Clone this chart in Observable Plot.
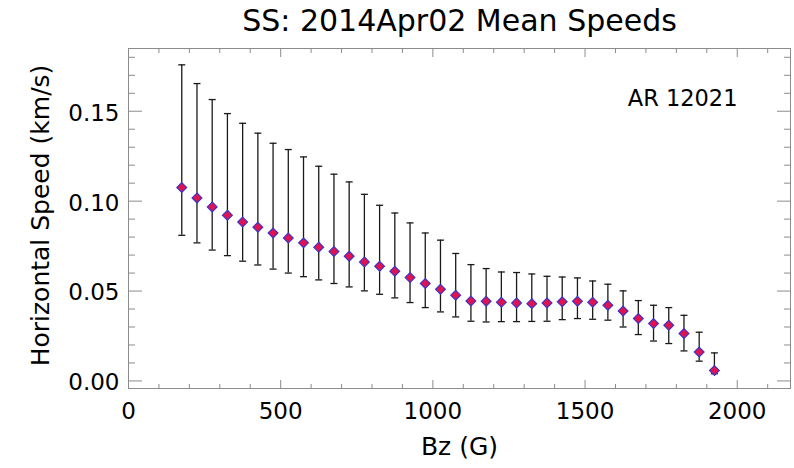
<!DOCTYPE html>
<html>
<head>
<meta charset="utf-8">
<script src="https://cdn.jsdelivr.net/npm/d3@7"></script>
<script src="https://cdn.jsdelivr.net/npm/@observablehq/plot@0.6"></script>
<style>
  body { margin: 0; background: #fff; }
  #chart svg { display: block; }
</style>
</head>
<body>
<div id="chart"></div>
<script>
// Field strength bins (G)
const bz = [175, 225, 275, 325, 375, 425, 475, 525, 575, 625, 675, 725,
            775, 825, 875, 925, 975, 1025, 1075, 1125, 1175, 1225, 1275, 1325,
            1375, 1425, 1475, 1525, 1575, 1625, 1675, 1725, 1775, 1825, 1875, 1925];
// Mean horizontal speed per bin (km/s)
const meanSpeed = [0.1076, 0.1018, 0.0968, 0.0922, 0.0884, 0.0855, 0.0823, 0.0795, 0.0768, 0.0744, 0.0720, 0.0694,
                   0.0662, 0.0638, 0.0610, 0.0575, 0.0542, 0.0510, 0.0477, 0.0445, 0.0443, 0.0438, 0.0434, 0.0430,
                   0.0434, 0.0440, 0.0443, 0.0438, 0.0421, 0.0389, 0.0347, 0.0319, 0.0310, 0.0264, 0.0161, 0.0058];
// Error bar upper ends
const upper = [0.1758, 0.1654, 0.1565, 0.1487, 0.1433, 0.1378, 0.1322, 0.1287, 0.1246, 0.1194, 0.1150, 0.1107,
               0.1038, 0.0977, 0.0934, 0.0879, 0.0823, 0.0783, 0.0709, 0.0647, 0.0625, 0.0606, 0.0603, 0.0595,
               0.0582, 0.0578, 0.0573, 0.0556, 0.0538, 0.0501, 0.0447, 0.0421, 0.0408, 0.0365, 0.0271, 0.0156];
// Error bar lower ends
const lower = [0.0810, 0.0768, 0.0728, 0.0697, 0.0666, 0.0645, 0.0622, 0.0600, 0.0580, 0.0562, 0.0542, 0.0523,
               0.0501, 0.0482, 0.0462, 0.0436, 0.0408, 0.0384, 0.0356, 0.0332, 0.0328, 0.0330, 0.0330, 0.0331,
               0.0332, 0.0341, 0.0347, 0.0343, 0.0338, 0.0300, 0.0258, 0.0222, 0.0208, 0.0167, 0.0110, 0.0040];

// Tick values
const xMajor = [0, 500, 1000, 1500, 2000];
const xMinor = [100, 200, 300, 400, 600, 700, 800, 900, 1100, 1200, 1300, 1400,
                1600, 1700, 1800, 1900, 2100];
const yMajor = [0, 0.05, 0.10, 0.15];
const yMinor = [0.01, 0.02, 0.03, 0.04, 0.06, 0.07, 0.08, 0.09, 0.11, 0.12, 0.13, 0.14, 0.16, 0.17, 0.18];

const titleText = "SS: 2014Apr02 Mean Speeds";
const regionText = "AR 12021";
const xLabel = "Bz (G)";
const yLabel = "Horizontal Speed (km/s)";

const rows = bz.map((b, i) => ({bz: b, mean: meanSpeed[i], hi: upper[i], lo: lower[i]}));

// Short horizontal stroke used as the error-bar cap
const capSymbol = {draw(ctx) { ctx.moveTo(-3.5, 0); ctx.lineTo(3.5, 0); }};
const noText = () => "";
const axisGray = "#8c8c8c";

const chart = Plot.plot({
  width: 794,
  height: 468,
  marginLeft: 128,
  marginRight: 4,
  marginTop: 48,
  marginBottom: 80,
  x: {domain: [0, 2175]},
  y: {domain: [-0.0042, 0.1849]},
  style: {fontFamily: "'DejaVu Sans', sans-serif", fontSize: "23px", color: "#000", background: "#fff"},
  marks: [
    Plot.frame({stroke: axisGray}),
    // inward ticks on all four sides
    Plot.axisY(yMajor, {anchor: "left", tickSize: -14, tickFormat: noText, stroke: axisGray, label: null}),
    Plot.axisY(yMinor, {anchor: "left", tickSize: -7, tickFormat: noText, stroke: axisGray, label: null}),
    Plot.axisY(yMajor, {anchor: "right", tickSize: -14, tickFormat: noText, stroke: axisGray, label: null}),
    Plot.axisY(yMinor, {anchor: "right", tickSize: -7, tickFormat: noText, stroke: axisGray, label: null}),
    Plot.axisX(xMajor, {anchor: "bottom", tickSize: -8, tickFormat: noText, stroke: axisGray, label: null}),
    Plot.axisX(xMinor, {anchor: "bottom", tickSize: -4, tickFormat: noText, stroke: axisGray, label: null}),
    Plot.axisX(xMajor, {anchor: "top", tickSize: -8, tickFormat: noText, stroke: axisGray, label: null}),
    Plot.axisX(xMinor, {anchor: "top", tickSize: -4, tickFormat: noText, stroke: axisGray, label: null}),
    // tick labels
    Plot.axisY(yMajor, {anchor: "left", tickSize: 0, tickPadding: 9, dy: 2, tickFormat: d3.format(".2f"), label: null}),
    Plot.axisX(xMajor, {anchor: "bottom", tickSize: 0, tickPadding: 14, tickFormat: d3.format("d"), label: null}),
    // error bars
    Plot.ruleX(rows, {x: "bz", y1: "lo", y2: "hi", stroke: "#1a1a1a", strokeWidth: 1.3}),
    Plot.dot(rows, {x: "bz", y: "hi", symbol: capSymbol, r: 1, stroke: "#1a1a1a", strokeWidth: 1.3, fill: "none"}),
    Plot.dot(rows, {x: "bz", y: "lo", symbol: capSymbol, r: 1, stroke: "#1a1a1a", strokeWidth: 1.3, fill: "none"}),
    // mean speed markers
    Plot.dot(rows, {x: "bz", y: "mean", symbol: "diamond2", r: 4.4, fill: "#e3124f", stroke: "#3b34c8", strokeWidth: 1.2}),
    // annotations and titles
    Plot.text([regionText], {frameAnchor: "top-right", dx: -53, dy: 50, textAnchor: "end", lineAnchor: "middle", fontSize: 22.5}),
    Plot.text([titleText], {frameAnchor: "top", dy: -27, textAnchor: "middle", lineAnchor: "middle", fontSize: 30}),
    Plot.text([xLabel], {frameAnchor: "bottom", dy: 58, textAnchor: "middle", lineAnchor: "middle", fontSize: 25}),
    Plot.text([yLabel], {frameAnchor: "left", dx: -88, dy: -3, rotate: -90, textAnchor: "middle", lineAnchor: "middle", fontSize: 25})
  ]
});

document.getElementById("chart").appendChild(chart);
</script>
</body>
</html>
